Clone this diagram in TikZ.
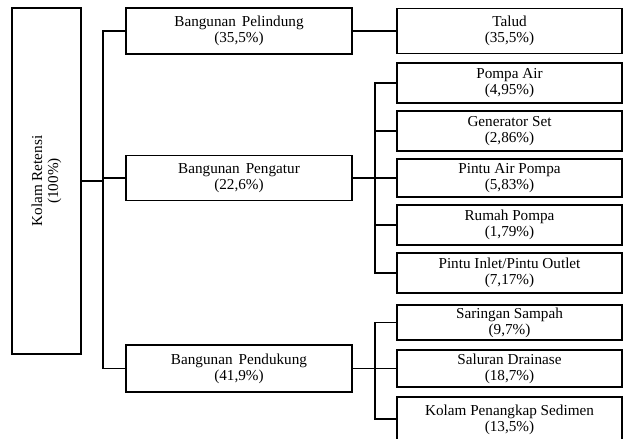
\documentclass[tikz,border=0pt]{standalone}
\usepackage{fontspec}
\setmainfont{Liberation Serif}
\begin{document}
\begin{tikzpicture}[x=1pt,y=-1pt,
  box/.style={draw=black, line width=1.9pt, fill=white, align=center, inner sep=0pt,
    font=\fontsize{15.2}{16}\selectfont},
  lone/.style={box, minimum width=226pt},
  ltwo/.style={box, minimum width=225pt},
  conn/.style={draw=black, line width=1.9pt}]
\useasboundingbox (0,0) rectangle (624,439);
\clip (0,0) rectangle (624,439);
% root
\node[box, rotate=90, minimum width=346pt, minimum height=69pt] (root) at (46.5,181) {Kolam Retensi\\(100\%)};
% level 1
\node[lone, minimum height=46pt] (pel) at (239,31) {Bangunan\hspace{6pt}Pelindung\\(35,5\%)};
\node[lone, minimum height=45pt] (peng) at (239,178) {Bangunan\hspace{6pt}Pengatur\\(22,6\%)};
\node[lone, minimum height=47pt] (pend) at (239,368.5) {Bangunan\hspace{6pt}Pendukung\\(41,9\%)};
% level 2
\node[ltwo, minimum height=45pt] (talud) at (509.5,31) {Talud\\(35,5\%)};
\node[ltwo, minimum height=40pt] (pompa) at (509.5,83) {Pompa Air\\(4,95\%)};
\node[ltwo, minimum height=40pt] (gen) at (509.5,131) {Generator Set\\(2,86\%)};
\node[ltwo, minimum height=38pt] (pintu) at (509.5,178) {Pintu Air Pompa\\(5,83\%)};
\node[ltwo, minimum height=40pt] (rumah) at (509.5,225) {Rumah Pompa\\(1,79\%)};
\node[ltwo, minimum height=40pt] (inlet) at (509.5,273) {Pintu Inlet/Pintu Outlet\\(7,17\%)};
\node[ltwo, minimum height=35pt] (sar) at (509.5,322.5) {Saringan Sampah\\(9,7\%)};
\node[ltwo, minimum height=37pt] (sal) at (509.5,368.5) {Saluran Drainase\\(18,7\%)};
\node[ltwo, minimum height=44pt] (kol) at (509.5,419) {};
\node[font=\fontsize{15.2}{16}\selectfont, align=center, inner sep=0pt] (koltext) at (509.5,420) {Kolam Penangkap Sedimen\\(13,5\%)};
% bus coordinates
\coordinate (t) at (103,0);
\coordinate (b) at (375,0);
% connectors level 1
\draw[conn] (root.south) -- (root.south -| t);
\draw[conn] (pel.west) -- (pel.west -| t) -- (pend.west -| t) -- (pend.west);
\draw[conn] (peng.west) -- (peng.west -| t);
% Pelindung
\draw[conn] (pel.east) -- (talud.west);
% Pengatur
\draw[conn] (peng.east) -- (peng.east -| b);
\draw[conn] (pompa.west) -- (pompa.west -| b) -- (inlet.west -| b) -- (inlet.west);
\draw[conn] (gen.west) -- (gen.west -| b);
\draw[conn] (pintu.west) -- (pintu.west -| b);
\draw[conn] (rumah.west) -- (rumah.west -| b);
% Pendukung
\draw[conn] (pend.east) -- (pend.east -| b);
\draw[conn] (sar.west) -- (sar.west -| b) -- (kol.west -| b) -- (kol.west);
\draw[conn] (sal.west) -- (sal.west -| b);
\end{tikzpicture}
\end{document}
